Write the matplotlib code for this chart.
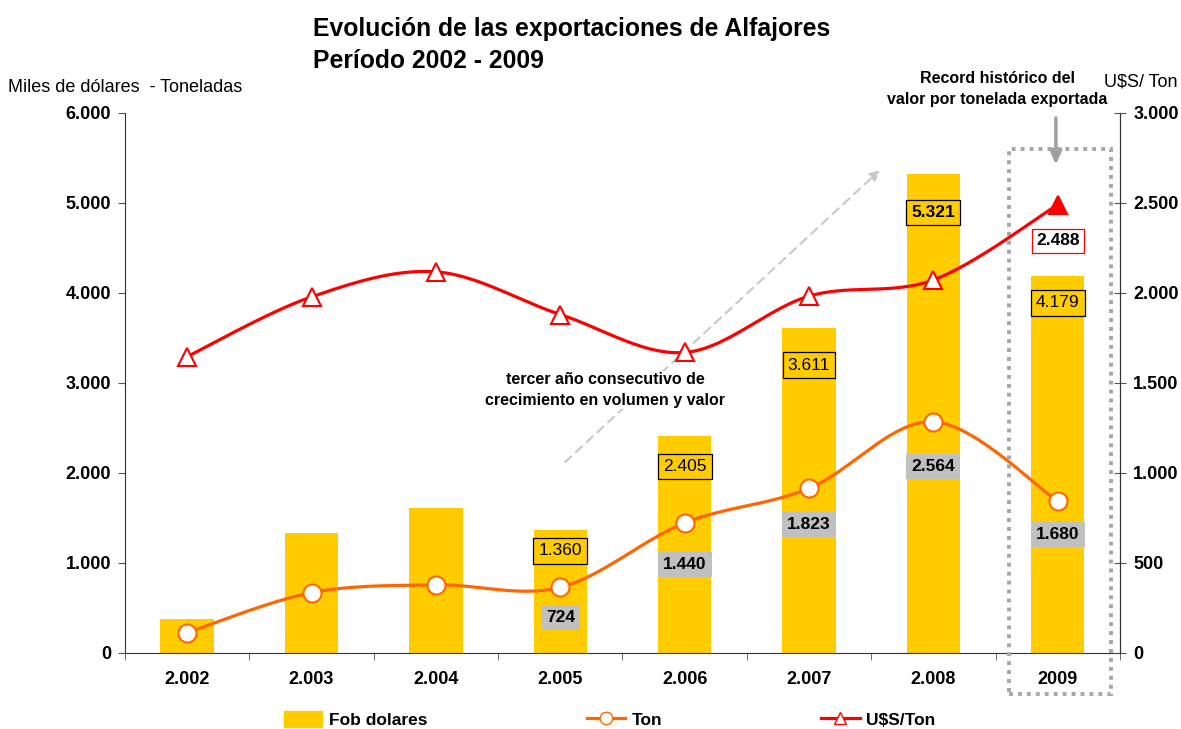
import matplotlib
matplotlib.use("Agg")
import matplotlib.pyplot as plt
import matplotlib.patches as mpatches
from matplotlib.lines import Line2D
import numpy as np

plt.rcParams["font.family"] = ["Liberation Sans", "DejaVu Sans"]

# ─── Data ────────────────────────────────────────────────────────────────────
years = ["2.002", "2.003", "2.004", "2.005", "2.006", "2.007", "2.008", "2009"]
fob = [375, 1328, 1603, 1360, 2405, 3611, 5321, 4179]        # miles de U$S
ton = [220, 665, 752, 724, 1440, 1823, 2564, 1680]           # toneladas
usd_ton = [1644, 1976, 2115, 1878, 1667, 1980, 2070, 2488]   # U$S / Ton

fob_labels = ["1.360", "2.405", "3.611", "5.321", "4.179"]    # 2005-2009
ton_labels = ["724", "1.440", "1.823", "2.564", "1.680"]      # 2005-2009
usd_label = "2.488"                                           # 2009

YELLOW = "#FFCC00"
ORANGE = "#FF6600"
RED = "#FF0000"


def smooth(y, n=30):
    """Excel-style smoothed line (Catmull-Rom via cubic Bezier)."""
    x = np.arange(len(y), dtype=float)
    p = np.column_stack([x, np.asarray(y, dtype=float)])
    p_ext = np.vstack([p[0], p, p[-1]])
    t = np.linspace(0, 1, n)[:, None]
    out = []
    for i in range(len(p) - 1):
        p0, p1, p2, p3 = p_ext[i], p_ext[i + 1], p_ext[i + 2], p_ext[i + 3]
        c1 = p1 + (p2 - p0) / 6
        c2 = p2 - (p3 - p1) / 6
        seg = ((1 - t) ** 3) * p1 + 3 * ((1 - t) ** 2) * t * c1 + 3 * (1 - t) * t ** 2 * c2 + t ** 3 * p2
        out.append(seg if i == 0 else seg[1:])
    out = np.vstack(out)
    return out[:, 0], out[:, 1]


fig = plt.figure(figsize=(11.81, 7.29), dpi=100)
ax = fig.add_axes([0.1058, 0.1049, 0.8425, 0.7407])
ax2 = ax.twinx()

xpos = np.arange(len(years))

# bars
ax.bar(xpos, fob, width=0.43, color=YELLOW, zorder=2)

# Ton line
sx, sy = smooth(ton)
ax.plot(sx, sy, color=ORANGE, lw=2.3, zorder=3, solid_capstyle="round")
ax.plot(xpos, ton, ls="none", marker="o", ms=13, mfc="white", mec=ORANGE, mew=1.5, zorder=4)

# U$S/Ton line
sx2, sy2 = smooth(usd_ton)
ax2.plot(sx2, sy2, color=RED, lw=2.3, zorder=3, solid_capstyle="round")
ax2.plot(xpos[:-1], usd_ton[:-1], ls="none", marker="^", ms=13, mfc="white", mec=RED, mew=1.5, zorder=4)
ax2.plot(xpos[-1:], usd_ton[-1:], ls="none", marker="^", ms=13, mfc=RED, mec=RED, mew=1.5, zorder=4)

# axes styling
ax.set_xlim(-0.5, len(years) - 0.5)
ax.set_ylim(0, 6000)
ax2.set_ylim(0, 3000)
ax.set_yticks(np.arange(0, 6001, 1000))
ax.set_yticklabels([f"{v:,}".replace(",", ".") for v in range(0, 6001, 1000)])
ax2.set_yticks(np.arange(0, 3001, 500))
ax2.set_yticklabels([f"{v:,}".replace(",", ".") for v in range(0, 3001, 500)])
ax.set_xticks(xpos)
ax.set_xticklabels(years)
ax.set_xticks(np.arange(-0.5, len(years)), minor=True)
ax.tick_params(axis="x", which="major", length=0, pad=13, labelsize=13)
ax.tick_params(axis="x", which="minor", length=5, color="#555555", direction="out")
ax.tick_params(axis="y", length=5, color="#555555", pad=5, labelsize=13)
ax2.tick_params(axis="y", length=9, color="#555555", direction="inout", pad=5, labelsize=13)
for lab in ax.get_xticklabels() + ax.get_yticklabels() + ax2.get_yticklabels():
    lab.set_fontweight("bold")
for a in (ax, ax2):
    a.spines["top"].set_visible(False)
    for s in ("left", "right", "bottom"):
        a.spines[s].set_color("#333333")
ax2.spines["left"].set_visible(False)
ax2.spines["bottom"].set_visible(False)

# value labels
fob_off = [-15, -22, -27, -28, -19]
for i, (lab, off) in enumerate(zip(fob_labels, fob_off)):
    k = i + 3
    ax2.annotate(lab, xy=(k, fob[k] / 2), xytext=(0, off), textcoords="offset points",
                 ha="center", va="center", fontsize=12.5,
                 fontweight="bold" if lab == "5.321" else "normal",
                 bbox=dict(boxstyle="square,pad=0.3", fc=YELLOW, ec="black", lw=0.9), zorder=6)
ton_off = [-21.5, -30, -26, -32, -24]
for i, (lab, off) in enumerate(zip(ton_labels, ton_off)):
    k = i + 3
    ax2.annotate(lab, xy=(k, ton[k] / 2), xytext=(0, off), textcoords="offset points",
                 ha="center", va="center", fontsize=12.5, fontweight="bold",
                 bbox=dict(boxstyle="square,pad=0.3", fc="#C0C0C0", ec="none"), zorder=6)
ax2.annotate(usd_label, xy=(7, usd_ton[-1]), xytext=(0, -26), textcoords="offset points",
             ha="center", va="center", fontsize=12.5, fontweight="bold",
             bbox=dict(boxstyle="square,pad=0.25", fc="white", ec=RED, lw=0.9), zorder=6)

# annotations
ax.annotate("", xy=(5.57, 5360), xytext=(3.04, 2117),
            arrowprops=dict(arrowstyle="-|>,head_length=0.6,head_width=0.3", color="#C8C8C8",
                            lw=1.5, ls=(0, (4, 3)), shrinkA=0, shrinkB=0), zorder=1)
ax.text(3.36, 2917, "tercer año consecutivo de\ncrecimiento en volumen y valor",
        ha="center", va="center", fontsize=11.5, fontweight="bold", linespacing=1.45,
        bbox=dict(boxstyle="square,pad=0.1", fc="white", ec="none"), zorder=2.5)

ax.annotate("", xy=(6.985, 5420), xytext=(6.985, 5940), annotation_clip=False,
            arrowprops=dict(arrowstyle="-|>,head_length=0.8,head_width=0.35", color="#A0A0A0",
                            lw=2.5, shrinkA=0, shrinkB=0))
ax.add_patch(mpatches.Rectangle((6.607, -460), 0.82, 6055, fill=False, ec="#A6A6A6",
                                lw=2.8, ls=(0, (1, 1.3)), clip_on=False, zorder=7))

# texts
fig.text(313 / 1181, 1 - 17 / 729, "Evolución de las exportaciones de Alfajores\nPeríodo 2002 - 2009",
         ha="left", va="top", fontsize=17.8, fontweight="bold", linespacing=1.42)
fig.text(8 / 1181, 1 - 88 / 729, "Miles de dólares  - Toneladas", ha="left", va="center", fontsize=13)
fig.text(1177 / 1181, 1 - 82 / 729, "U$S/ Ton", ha="right", va="center", fontsize=13)
fig.text(997 / 1181, 1 - 89 / 729, "Record histórico del\nvalor por tonelada exportada",
         ha="center", va="center", fontsize=11.5, fontweight="bold", linespacing=1.5)

# legend
handles = [
    mpatches.Patch(color=YELLOW),
    Line2D([], [], color=ORANGE, lw=2.3, marker="o", ms=9, mfc="white", mec=ORANGE),
    Line2D([], [], color=RED, lw=2.3, marker="^", ms=9, mfc="white", mec=RED),
]
fig.legend(handles, ["Fob dolares", "Ton", "U$S/Ton"], loc="center", bbox_to_anchor=(0.5165, 0.013),
           ncol=3, frameon=False, prop=dict(weight="bold", size=12.5), handlelength=2.2,
           handleheight=1.0, handletextpad=0.4, columnspacing=9.15)

fig.savefig("out.png", dpi=100)
